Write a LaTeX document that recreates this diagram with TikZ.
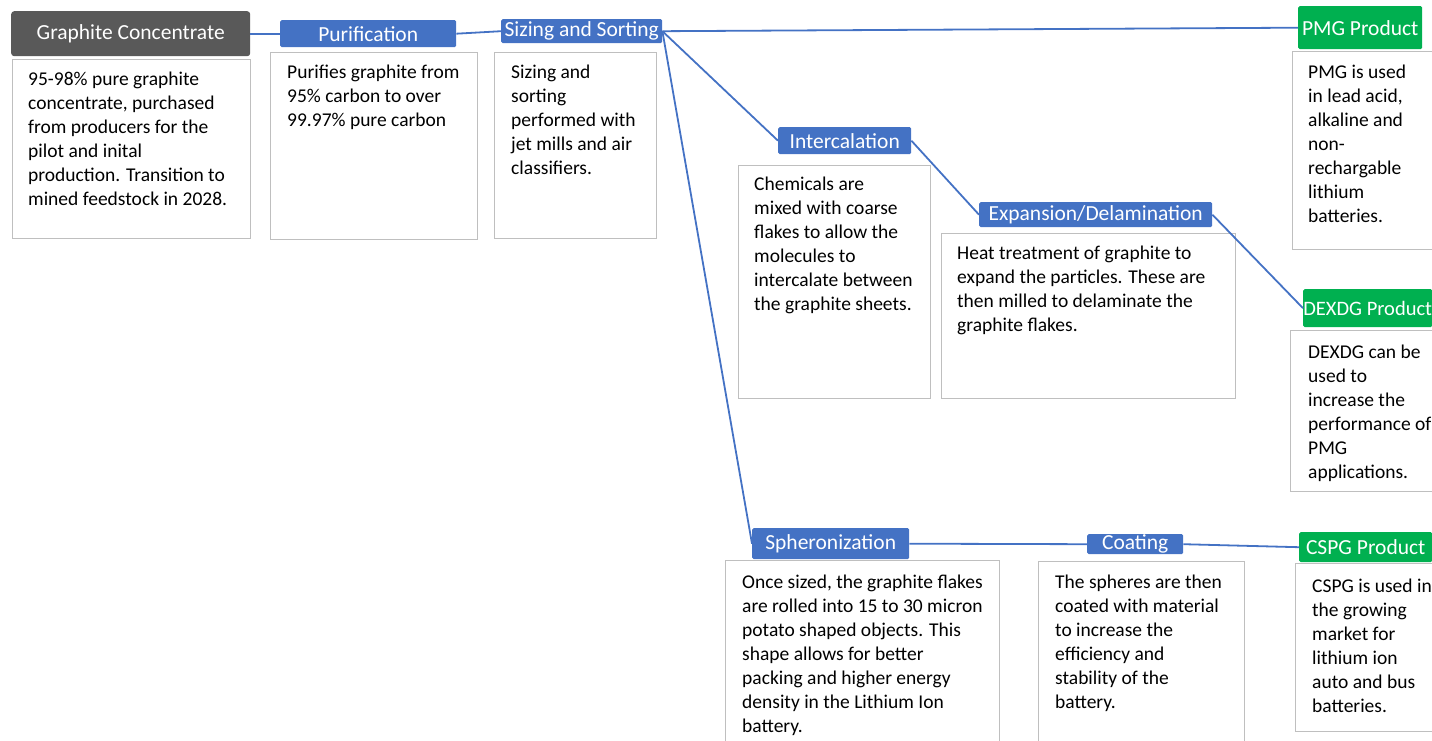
\documentclass[tikz,border=0pt]{standalone}
\usepackage{fontspec}
\setmainfont{Carlito}
\usetikzlibrary{positioning}
\definecolor{stepblue}{HTML}{4472C4}
\definecolor{prodgreen}{HTML}{00B050}
\definecolor{startgray}{HTML}{595959}
\definecolor{boxgray}{HTML}{BFBFBF}
\newcommand{\desc}{\fontsize{19.5}{24}\selectfont}
\newcommand{\lbl}{\fontsize{21.5}{24}\selectfont}

\begin{document}
\begin{tikzpicture}[x=1pt, y=-1pt,
    stepbox/.style={fill=stepblue, text=white, anchor=north west, inner sep=0pt, rounded corners=1.5pt, font=\lbl},
    prodbox/.style={stepbox, fill=prodgreen},
    descbox/.style={draw=boxgray, line width=1.3pt, fill=white, anchor=north west, inner sep=0pt},
    desctext/.style={align=left, inner sep=0pt, font=\desc},
    link/.style={draw=stepblue, line width=1.8pt}]
        \clip (0,0) rectangle (1432,741);
        %step labels
        \node[stepbox, fill=startgray, rounded corners=3pt, minimum width=239pt, minimum height=45pt] (gc) at (11,11) {Graphite Concentrate};
        \node[stepbox, minimum width=176pt, minimum height=27pt] (purif) at (280,20) {Purification};
        \node[stepbox, minimum width=161pt, minimum height=24pt] (sizing) at (501,19) {Sizing and Sorting};
        \node[stepbox, minimum width=133pt, minimum height=27pt] (inter) at (778,127) {Intercalation};
        \node[stepbox, minimum width=233pt, minimum height=25pt] (expan) at (979,202) {Expansion/Delamination};
        \node[stepbox, minimum width=157pt, minimum height=31pt] (sph) at (752,528) {Spheronization};
        \node[stepbox, minimum width=96pt, minimum height=20pt] (coat) at (1087,534) {Coating};
        \node[prodbox, minimum width=124pt, minimum height=43pt] (pmg) at (1298,6) {PMG Product};
        \node[prodbox, minimum width=129pt, minimum height=38pt, font=\fontsize{20.5}{24}\selectfont] (dexdg) at (1303,289) {DEXDG Product};
        \node[prodbox, minimum width=133pt, minimum height=30pt] (cspg) at (1299,532) {CSPG Product};
        %description boxes
        \node[descbox, minimum width=238pt, minimum height=179pt] (gcbox) at (12,59) {};
        \node[descbox, minimum width=207pt, minimum height=187pt] (purifbox) at (270,52) {};
        \node[descbox, minimum width=162pt, minimum height=186pt] (sizingbox) at (494,52) {};
        \node[descbox, minimum width=192pt, minimum height=233pt] (interbox) at (738,165) {};
        \node[descbox, minimum width=294pt, minimum height=165pt] (expanbox) at (941,233) {};
        \node[descbox, minimum width=274pt, minimum height=200pt] (sphbox) at (725,560) {};
        \node[descbox, minimum width=206pt, minimum height=200pt] (coatbox) at (1038,561) {};
        \node[descbox, minimum width=150pt, minimum height=198pt] (pmgbox) at (1292,51) {};
        \node[descbox, minimum width=152pt, minimum height=161pt] (dexdgbox) at (1290,330) {};
        \node[descbox, minimum width=147pt, minimum height=168pt] (cspgbox) at (1295,563) {};
        %description texts
        \node[desctext, below right=13pt and 16pt of gcbox.north west] (gctext) {95-98\% pure graphite\\concentrate, purchased\\from producers for the\\pilot and inital\\production.  Transition to\\mined feedstock in 2028.};
        \node[desctext, below right=13pt and 17pt of purifbox.north west] (purictext) {Purifies graphite from\\95\% carbon to over\\99.97\% pure carbon};
        \node[desctext, below right=13pt and 17pt of sizingbox.north west] (sizingtext) {Sizing and\\sorting\\performed with\\jet mills and air\\classifiers.};
        \node[desctext, below right=12pt and 16pt of interbox.north west] (intertext) {Chemicals are\\mixed with coarse\\flakes to allow the\\molecules to\\intercalate between\\the graphite sheets.};
        \node[desctext, below right=13pt and 16pt of expanbox.north west] (expantext) {Heat treatment of graphite to\\expand the particles.  These are\\then milled to delaminate the\\graphite flakes.};
        \node[desctext, below right=15pt and 17pt of sphbox.north west] (sphtext) {Once sized, the graphite flakes\\are rolled into 15 to 30 micron\\potato shaped objects.  This\\shape allows for better\\packing and higher energy\\density in the Lithium Ion\\battery.};
        \node[desctext, below right=14pt and 17pt of coatbox.north west] (coattext) {The spheres are then\\coated with material\\to increase the\\efficiency and\\stability of the\\battery.};
        \node[desctext, below right=14pt and 16pt of pmgbox.north west] (pmgtext) {PMG is used\\in lead acid,\\alkaline and\\non-\\rechargable\\lithium\\batteries.};
        \node[desctext, below right=15pt and 18pt of dexdgbox.north west] (dexdgtext) {DEXDG can be\\used to\\increase the\\performance of\\PMG\\applications.};
        \node[desctext, below right=16pt and 17pt of cspgbox.north west] (cspgtext) {CSPG is used in\\the growing\\market for\\lithium ion\\auto and bus\\batteries.};
        %edges
        \path [link] (gc.east) to (purif.west);
        \path [link] (purif.east) to (sizing.west);
        \path [link] (sizing.east) to (pmg.west);
        \path [link] (sizing.east) to (inter.west);
        \path [link] (sizing.east) to (sph.west);
        \path [link] (inter.east) to (expan.west);
        \path [link] (expan.east) to (dexdg.west);
        \path [link] (sph.east) to (coat.west);
        \path [link] (coat.east) to (cspg.west);
      \end{tikzpicture}
\end{document}
